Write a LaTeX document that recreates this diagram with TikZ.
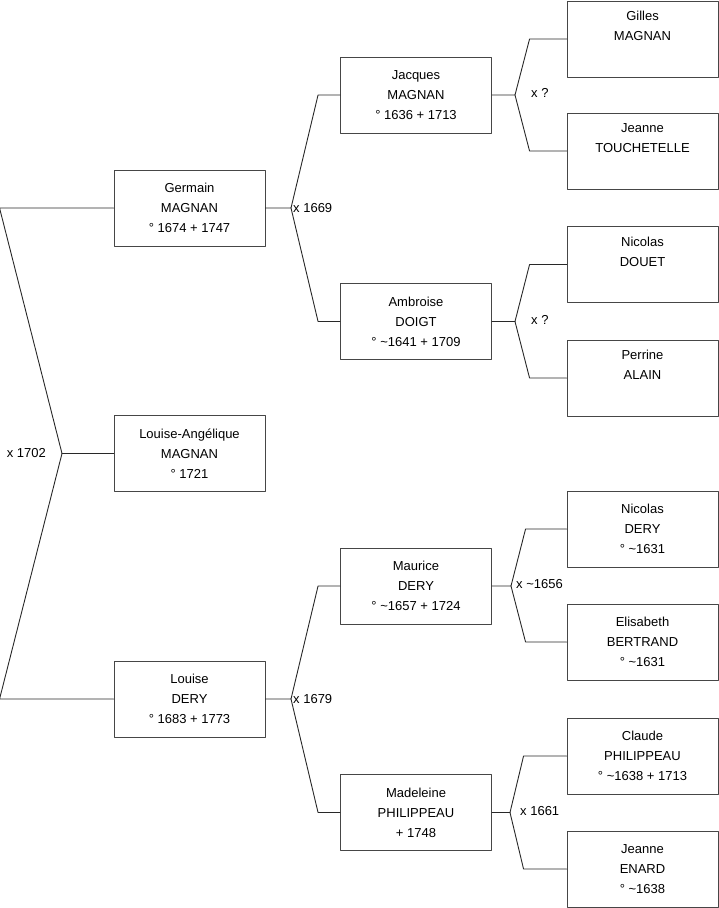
\documentclass[tikz,border=0pt]{standalone}
\usepackage{fontspec}
\setmainfont{Liberation Sans}
\definecolor{boxgray}{RGB}{70,70,70}
\definecolor{linegray}{RGB}{40,40,40}

\begin{document}
\begin{tikzpicture}[x=1pt,y=-1pt,line cap=round,line join=round,
  person/.style={draw=boxgray,line width=0.9pt,minimum width=151pt,minimum height=76pt,inner sep=0pt,align=center,font=\fontsize{13}{20}\selectfont},
  link/.style={draw=linegray,line width=0.9pt},
  wed/.style={inner sep=2pt,font=\fontsize{13}{16}\selectfont}]
\useasboundingbox (0,0) rectangle (719,908);
% generation 1 and 2
\node[person] (louiseang) at (189.5,453.5) {Louise-Angélique\\MAGNAN\\° 1721};
\node[person] (germain) at (189.5,208) {Germain\\MAGNAN\\° 1674 + 1747};
\node[person] (louise) at (189.5,699) {Louise\\DERY\\° 1683 + 1773};
% generation 3
\node[person] (jacques) at (416,95) {Jacques\\MAGNAN\\° 1636 + 1713};
\node[person] (ambroise) at (416,321.5) {Ambroise\\DOIGT\\° \textasciitilde1641 + 1709};
\node[person] (maurice) at (416,586) {Maurice\\DERY\\° \textasciitilde1657 + 1724};
\node[person] (madeleine) at (416,812.5) {Madeleine\\PHILIPPEAU\\+ 1748};
% generation 4
\node[person] (gilles) at (642.5,39) {Gilles\\MAGNAN\\\strut};
\node[person] (jeannet) at (642.5,151) {Jeanne\\TOUCHETELLE\\\strut};
\node[person] (nicolasdo) at (642.5,264.5) {Nicolas\\DOUET\\\strut};
\node[person] (perrine) at (642.5,378) {Perrine\\ALAIN\\\strut};
\node[person] (nicolasde) at (642.5,529) {Nicolas\\DERY\\° \textasciitilde1631};
\node[person] (elisabeth) at (642.5,642) {Elisabeth\\BERTRAND\\° \textasciitilde1631};
\node[person] (claude) at (642.5,756) {Claude\\PHILIPPEAU\\° \textasciitilde1638 + 1713};
\node[person] (jeannee) at (642.5,869) {Jeanne\\ENARD\\° \textasciitilde1638};
% fork points
\coordinate (j0) at (62,453.5);
\coordinate (j1) at (291,208);
\coordinate (j2) at (291,699);
\coordinate (j3) at (515,95);
\coordinate (j4) at (515,321.5);
\coordinate (j5) at (511,586);
\coordinate (j6) at (510,812.5);
% links
\draw[link] (louiseang.west) -- (j0);
\draw[link] (j0) -- ([xshift=-114pt]germain.west) -- (germain.west);
\draw[link] (j0) -- ([xshift=-114pt]louise.west) -- (louise.west);
\draw[link] (germain.east) -- (j1) -- ([xshift=-22pt]jacques.west) -- (jacques.west);
\draw[link] (j1) -- ([xshift=-22pt]ambroise.west) -- (ambroise.west);
\draw[link] (louise.east) -- (j2) -- ([xshift=-22pt]maurice.west) -- (maurice.west);
\draw[link] (j2) -- ([xshift=-22pt]madeleine.west) -- (madeleine.west);
\draw[link] (jacques.east) -- (j3) -- ([xshift=-37pt]gilles.west) -- (gilles.west);
\draw[link] (j3) -- ([xshift=-37pt]jeannet.west) -- (jeannet.west);
\draw[link] (ambroise.east) -- (j4) -- ([xshift=-37pt]nicolasdo.west) -- (nicolasdo.west);
\draw[link] (j4) -- ([xshift=-37pt]perrine.west) -- (perrine.west);
\draw[link] (maurice.east) -- (j5) -- ([xshift=-41pt]nicolasde.west) -- (nicolasde.west);
\draw[link] (j5) -- ([xshift=-41pt]elisabeth.west) -- (elisabeth.west);
\draw[link] (madeleine.east) -- (j6) -- ([xshift=-43pt]claude.west) -- (claude.west);
\draw[link] (j6) -- ([xshift=-43pt]jeannee.west) -- (jeannee.west);
% marriages
\node[wed,anchor=east] (m0) at ([xshift=-14pt]j0) {x 1702};
\node[wed,anchor=west] (m1) at (j1) {x 1669};
\node[wed,anchor=west] (m2) at (j2) {x 1679};
\node[wed,anchor=west] (m3) at ([xshift=14pt,yshift=2pt]j3) {x ?};
\node[wed,anchor=west] (m4) at ([xshift=14pt,yshift=1.5pt]j4) {x ?};
\node[wed,anchor=west] (m5) at ([xshift=3pt,yshift=2pt]j5) {x \textasciitilde1656};
\node[wed,anchor=west] (m6) at ([xshift=8pt,yshift=1.5pt]j6) {x 1661};
\end{tikzpicture}
\end{document}
